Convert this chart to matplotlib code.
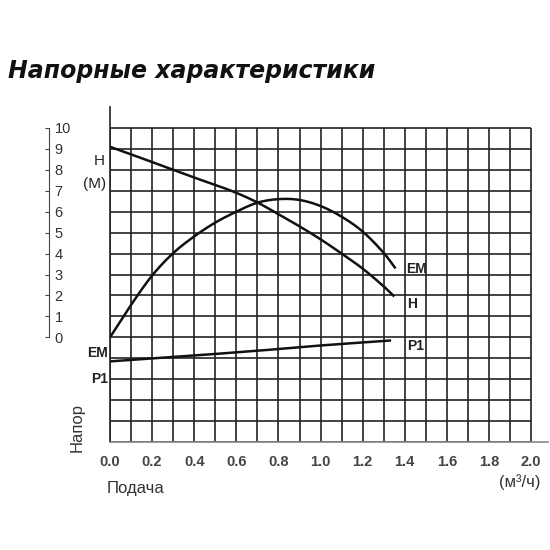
import numpy as np
import matplotlib.pyplot as plt

# Кривые насоса
h_q = [0.0, 0.1, 0.2, 0.3, 0.4, 0.5, 0.6, 0.7, 0.8, 0.9, 1.0, 1.1, 1.2, 1.3, 1.35]
h_val = [9.1, 8.74, 8.37, 8.0, 7.63, 7.28, 6.9, 6.44, 5.88, 5.3, 4.68, 4.0, 3.28, 2.43, 1.95]

em_q = [0.0, 0.1, 0.2, 0.3, 0.4, 0.5, 0.6, 0.7, 0.8, 0.9, 1.0, 1.1, 1.2, 1.3, 1.356]
em_val = [0.0, 1.55, 2.95, 4.02, 4.82, 5.48, 6.0, 6.43, 6.6, 6.56, 6.27, 5.76, 5.05, 4.03, 3.29]

p1_q = [0.0, 0.4, 0.8, 1.0, 1.335]
p1_val = [-1.15, -0.87, -0.56, -0.39, -0.15]

q_ticks = [0.0, 0.2, 0.4, 0.6, 0.8, 1.0, 1.2, 1.4, 1.6, 1.8, 2.0]
h_ticks = list(range(0, 11))

W, H = 550, 550
fig = plt.figure(figsize=(5.5, 5.5), dpi=100)


def fx(px):
    return px / W


def fy(py):
    return 1 - py / H


# основная сетка
ax = fig.add_axes([fx(110), fy(442), fx(548) - fx(110), fy(107) - fy(442)])
ax.set_xlim(0, 2.08)
ax.set_ylim(-5, 11)
for q in np.arange(0, 2.01, 0.1):
    ax.vlines(q, -5, 10, color="#222222", lw=1.2)
for v in range(-5, 11):
    ax.hlines(v, 0, 2.0, color="#222222", lw=1.2)
for s in ["top", "right"]:
    ax.spines[s].set_visible(False)
ax.spines["left"].set_linewidth(1.2)
ax.spines["bottom"].set_linewidth(1.2)
ax.spines["left"].set_color("#222222")
ax.spines["bottom"].set_color("#888888")
ax.set_yticks([])
ax.set_xticks(q_ticks)
ax.set_xticklabels([f"{q:.1f}" for q in q_ticks], fontsize=10.5, fontweight="bold",
                   color="#444444", family="Liberation Sans")
ax.tick_params(axis="x", length=0, pad=9)


def smooth(xs, ys, n=300):
    # кубическая эрмитова интерполяция по считанным узлам
    xs = np.asarray(xs, dtype=float)
    ys = np.asarray(ys, dtype=float)
    t = np.linspace(xs[0], xs[-1], n)
    out = []
    for x in t:
        i = np.searchsorted(xs, x) - 1
        i = min(max(i, 0), len(xs) - 2)
        x0, x1 = xs[i], xs[i + 1]
        y0, y1 = ys[i], ys[i + 1]
        sec = (y1 - y0) / (x1 - x0)
        m0 = (ys[i + 1] - ys[i - 1]) / (xs[i + 1] - xs[i - 1]) if i > 0 else sec
        m1 = (ys[i + 2] - ys[i]) / (xs[i + 2] - xs[i]) if i + 2 < len(xs) else sec
        h = x1 - x0
        s = (x - x0) / h
        h00 = 2 * s**3 - 3 * s**2 + 1
        h10 = s**3 - 2 * s**2 + s
        h01 = -2 * s**3 + 3 * s**2
        h11 = s**3 - s**2
        out.append(h00 * y0 + h10 * h * m0 + h01 * y1 + h11 * h * m1)
    return t, np.array(out)


for xs, ys in [(h_q, h_val), (em_q, em_val), (p1_q, p1_val)]:
    sx, sy = smooth(xs, ys)
    ax.plot(sx, sy, color="#111111", lw=1.8, clip_on=False, solid_capstyle="butt")

lab = dict(fontsize=10, fontweight="bold", color="#222222", family="Liberation Sans")
ax.text(1.405, 3.27, "EM", va="center", ha="left", **lab)
ax.text(1.41, 1.6, "H", va="center", ha="left", **lab)
ax.text(1.41, -0.43, "P1", va="center", ha="left", **lab)
ax.text(-0.01, -0.77, "EM", va="center", ha="right", **lab)
ax.text(-0.01, -2.0, "P1", va="center", ha="right", **lab)
ax.text(-0.025, 8.4, "H", va="center", ha="right", fontsize=11, color="#222222",
        family="Liberation Sans")
ax.text(-0.02, 7.3, "(M)", va="center", ha="right", fontsize=11, color="#222222",
        family="Liberation Sans")

# шкала напора слева
ax2 = fig.add_axes([fx(30), fy(442), fx(49) - fx(30), fy(107) - fy(442)])
ax2.set_ylim(-5, 11)
ax2.set_xticks([])
for s in ["top", "left", "bottom"]:
    ax2.spines[s].set_visible(False)
ax2.patch.set_visible(False)
ax2.spines["right"].set_bounds(0, 10)
ax2.spines["right"].set_color("#444444")
ax2.yaxis.tick_right()
ax2.set_yticks(h_ticks)
ax2.set_yticklabels([str(v) for v in h_ticks], fontsize=10.5, color="#333333",
                    family="Liberation Sans")
ax2.tick_params(axis="y", direction="in", length=3, pad=4, color="#444444")

fig.text(fx(77), fy(428), "Напор", rotation=90, ha="center", va="center",
         fontsize=12, color="#333333", family="Liberation Sans")
fig.text(fx(107), fy(488), "Подача", ha="left", va="center",
         fontsize=12, color="#333333", family="Liberation Sans")
fig.text(fx(520), fy(482), "(м³/ч)", ha="center", va="center",
         fontsize=12, color="#333333", family="Liberation Sans")
fig.text(fx(8), fy(71), "Напорные характеристики", ha="left", va="center",
         fontsize=17, fontweight="bold", fontstyle="italic", color="#111111",
         family="DejaVu Sans")

fig.savefig("out.png", dpi=100, facecolor="white")
